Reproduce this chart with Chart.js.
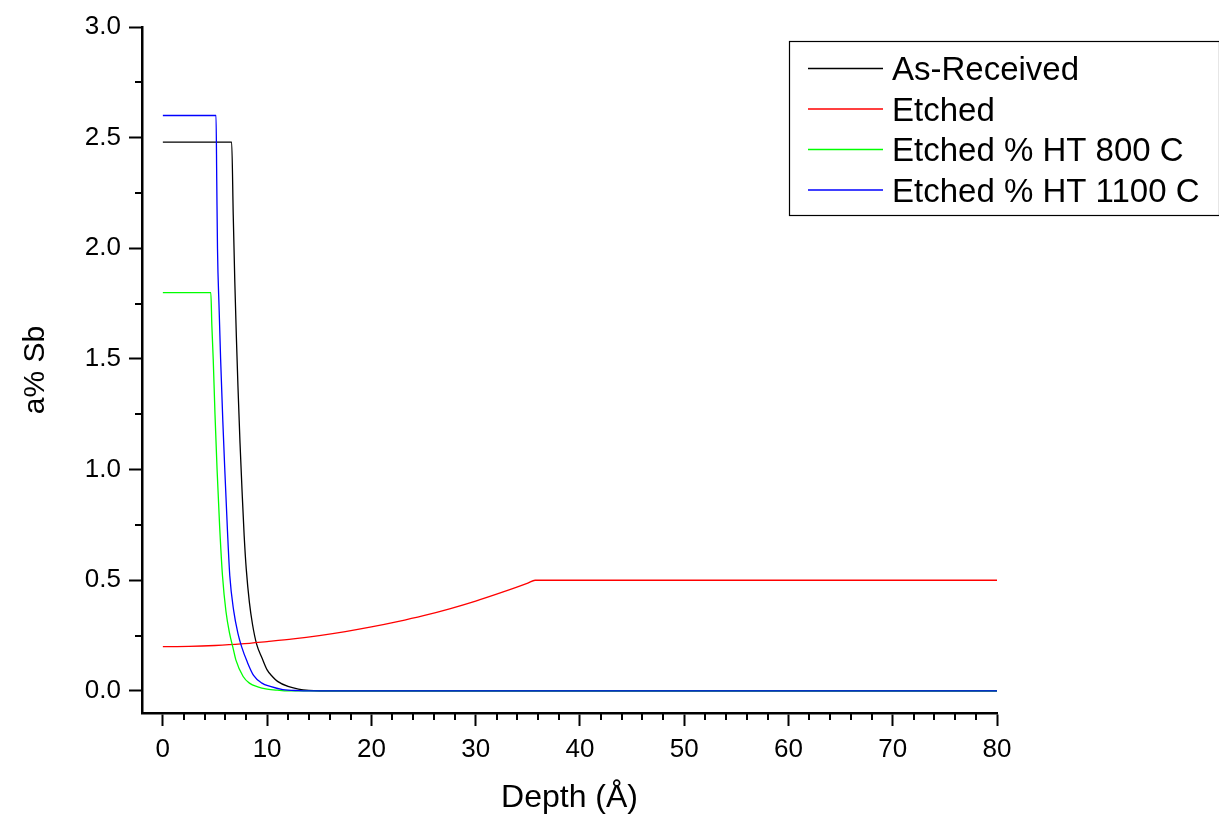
<!DOCTYPE html>
<html>
<head>
<meta charset="utf-8">
<title>a% Sb vs Depth</title>
<script src="https://cdn.jsdelivr.net/npm/chart.js@4.4.1/dist/chart.umd.min.js"></script>
<style>
  html, body { margin: 0; padding: 0; background: #ffffff; }
  #contenedor { width: 1219px; height: 819px; }
</style>
</head>
<body>
<div id="contenedor">
  <canvas id="graficoPerfil" width="1219" height="819"></canvas>
</div>
<script>
// Perfiles de Sb en profundidad (Å) para cada muestra
var nombres = ['As-Received', 'Etched', 'Etched % HT 800 C', 'Etched % HT 1100 C'];
var colores = ['#000000', '#ff0000', '#00ff00', '#0000ff'];

var profAsReceived = [0, 6.6, 6.75, 6.9, 7.05, 7.2, 7.4, 7.6, 7.8, 8.0, 8.3, 8.6, 9.0, 9.5, 10, 10.5, 11, 12, 13, 14, 15, 80];
var sbAsReceived   = [2.48, 2.48, 2.15, 1.85, 1.6, 1.38, 1.12, 0.9, 0.7, 0.55, 0.4, 0.3, 0.21, 0.15, 0.095, 0.065, 0.043, 0.02, 0.008, 0.002, 0, 0];

var profEtched = [0, 2.5, 5, 7.5, 10, 12.5, 15, 17.5, 20, 22.5, 25, 27.5, 30, 32.5, 35, 35.7, 80];
var sbEtched   = [0.2, 0.201, 0.205, 0.212, 0.223, 0.235, 0.25, 0.268, 0.289, 0.313, 0.34, 0.371, 0.406, 0.445, 0.487, 0.5, 0.5];

var prof800 = [0, 4.6, 4.7, 4.83, 5.0, 5.2, 5.45, 5.72, 6.05, 6.4, 6.75, 7.0, 7.7, 8.3, 9.1, 10, 11, 12, 80];
var sb800   = [1.8, 1.8, 1.65, 1.5, 1.25, 1.0, 0.74, 0.52, 0.36, 0.26, 0.19, 0.14, 0.065, 0.035, 0.018, 0.008, 0.003, 0, 0];

var prof1100 = [0, 5.1, 5.17, 5.24, 5.4, 5.54, 5.75, 5.94, 6.2, 6.42, 6.8, 7.2, 7.55, 8.1, 8.7, 9.5, 10.3, 11.5, 13, 14, 80];
var sb1100   = [2.6, 2.6, 2.3, 2.0, 1.72, 1.5, 1.22, 1.0, 0.72, 0.52, 0.36, 0.26, 0.2, 0.13, 0.07, 0.035, 0.02, 0.006, 0.001, 0, 0];

// Marcas de los ejes
var ticksX = [0, 10, 20, 30, 40, 50, 60, 70, 80];
var ticksY = [0.0, 0.5, 1.0, 1.5, 2.0, 2.5, 3.0];

function puntos(xs, ys) {
    return xs.map(function(x, i) { return { x: x, y: ys[i] }; });
}

var series = [
    puntos(profAsReceived, sbAsReceived),
    puntos(profEtched, sbEtched),
    puntos(prof800, sb800),
    puntos(prof1100, sb1100)
];

var fuente = '"Liberation Sans", Arial, sans-serif';

// Marcas menores y leyenda con recuadro
var pluginExtras = {
    id: 'extras',
    afterDraw: function(chart) {
        var ctx = chart.ctx;
        var sx = chart.scales.x;
        var sy = chart.scales.y;
        var area = chart.chartArea;
        ctx.save();
        ctx.strokeStyle = '#000';
        ctx.lineWidth = 2;
        ctx.beginPath();
        for (var v = 2; v < 80; v += 2) {
            if (v % 10 === 0) continue;
            var px = Math.round(sx.getPixelForValue(v));
            ctx.moveTo(px, area.bottom);
            ctx.lineTo(px, area.bottom + 7);
        }
        for (var k = 1; k < 12; k += 2) {
            var py = Math.round(sy.getPixelForValue(k * 0.25));
            ctx.moveTo(area.left, py);
            ctx.lineTo(area.left - 7, py);
        }
        ctx.stroke();

        // Leyenda
        var lx = 789.5, ly = 41.5, lw = 430, lh = 174;
        ctx.lineWidth = 1.2;
        ctx.strokeStyle = '#000';
        ctx.strokeRect(lx, ly, lw, lh);
        ctx.font = '33px ' + fuente;
        ctx.textBaseline = 'alphabetic';
        ctx.textAlign = 'left';
        chart.data.datasets.forEach(function(ds, i) {
            var yy = 68.5 + i * 40.5;
            ctx.strokeStyle = ds.borderColor;
            ctx.lineWidth = 1.3;
            ctx.beginPath();
            ctx.moveTo(808, yy);
            ctx.lineTo(883, yy);
            ctx.stroke();
            ctx.fillStyle = '#000';
            ctx.fillText(ds.label, 892, yy + 11.5);
        });
        ctx.restore();
    }
};

document.addEventListener("DOMContentLoaded", function() {
    var datos = {
        datasets: series.map(function(s, i) {
            return {
                label: nombres[i],
                data: s,
                borderColor: colores[i],
                backgroundColor: colores[i],
                borderWidth: 1.3,
                pointRadius: 0,
                fill: false,
                order: series.length - i, // la última serie queda encima
                cubicInterpolationMode: 'monotone'
            };
        })
    };

    var ctx = document.getElementById('graficoPerfil').getContext('2d');
    var grafico = new Chart(ctx, {
        type: 'line',
        data: datos,
        plugins: [pluginExtras],
        options: {
            responsive: false,
            animation: false,
            layout: { padding: { top: 27, right: 222, left: 0, bottom: 0 } },
            plugins: {
                legend: { display: false },
                tooltip: { enabled: false }
            },
            scales: {
                x: {
                    type: 'linear',
                    min: -2,
                    max: 80,
                    afterBuildTicks: function(scale) {
                        scale.ticks = ticksX.map(function(v) { return { value: v }; });
                    },
                    afterFit: function(scale) { scale.height = 106; },
                    grid: {
                        drawOnChartArea: false,
                        drawTicks: true,
                        tickLength: 13,
                        tickWidth: 2,
                        tickColor: '#000'
                    },
                    border: { display: true, color: '#000', width: 2.5 },
                    ticks: {
                        color: '#000',
                        padding: 8,
                        maxRotation: 0,
                        autoSkip: false,
                        font: { family: fuente, size: 26 }
                    },
                    title: {
                        display: true,
                        text: 'Depth (Å)',
                        color: '#000',
                        font: { family: fuente, size: 32 },
                        padding: { top: 0, bottom: 2 }
                    }
                },
                y: {
                    type: 'linear',
                    min: -0.1,
                    max: 3.0,
                    afterBuildTicks: function(scale) {
                        scale.ticks = ticksY.map(function(v) { return { value: v }; });
                    },
                    afterFit: function(scale) { scale.width = 142; },
                    grid: {
                        drawOnChartArea: false,
                        drawTicks: true,
                        tickLength: 13,
                        tickWidth: 2,
                        tickColor: '#000'
                    },
                    border: { display: true, color: '#000', width: 2.5 },
                    ticks: {
                        color: '#000',
                        padding: 8,
                        autoSkip: false,
                        font: { family: fuente, size: 26 },
                        callback: function(v) { return Number(v).toFixed(1); }
                    },
                    title: {
                        display: true,
                        text: 'a% Sb',
                        color: '#000',
                        font: { family: fuente, size: 30 },
                        padding: { top: 18, bottom: 0 }
                    }
                }
            }
        }
    });
});
</script>
</body>
</html>
